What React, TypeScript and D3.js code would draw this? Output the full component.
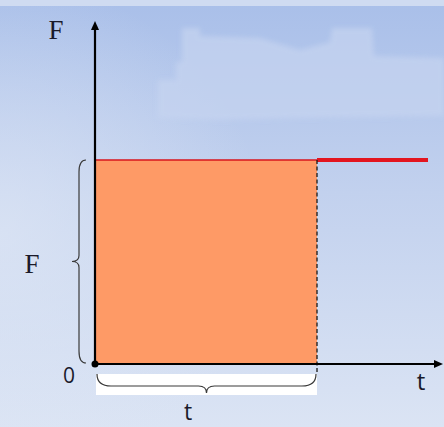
import React from "react";
import * as d3 from "d3";

// Constant force F acting over an interval of length t (impulse = F·t)
const timeDomain = [0, 1.5];
const forceDomain = [0, 1];
const pulseDuration = 1; // t
const forceValue = 1; // F
const forceSeries = [
  { t: 0, f: 1 },
  { t: 1.5, f: 1 },
];
const axisLabels = { yAxis: "F", xAxis: "t", origin: "0", forceBrace: "F", timeBrace: "t" };

const W = 444;
const H = 427;

function verticalBrace(x0: number, xl: number, xt: number, y1: number, y2: number) {
  const ym = (y1 + y2) / 2;
  const r = 12;
  return `M${x0},${y1} Q${xl},${y1} ${xl},${y1 + r} L${xl},${ym - 6} Q${xl},${ym} ${xt},${ym} Q${xl},${ym} ${xl},${ym + 6} L${xl},${y2 - r} Q${xl},${y2} ${x0},${y2}`;
}

function horizontalBrace(x1: number, x2: number, y0: number, yl: number, yt: number) {
  const xm = (x1 + x2) / 2;
  const r = 14;
  return `M${x1},${y0} Q${x1},${yl} ${x1 + r},${yl} L${xm - 8},${yl} Q${xm},${yl} ${xm},${yt} Q${xm},${yl} ${xm + 8},${yl} L${x2 - r},${yl} Q${x2},${yl} ${x2},${y0}`;
}

export default function App() {
  const x = d3.scaleLinear().domain(timeDomain).range([95, 428]);
  const y = d3.scaleLinear().domain(forceDomain).range([364, 160]);

  const x0 = x(0);
  const y0 = y(0);
  const xt = x(pulseDuration);
  const yF = y(forceValue);

  const line = d3
    .line<{ t: number; f: number }>()
    .x((d) => x(d.t))
    .y((d) => y(d.f));

  // part of the force line beyond the shaded interval
  const tail = [{ t: pulseDuration, f: forceValue }, forceSeries[forceSeries.length - 1]];

  const xAxisEnd = 443;
  const yAxisEnd = 21;

  return (
    <svg
      width={W}
      height={H}
      style={{ position: "fixed", left: 0, top: 0, display: "block" }}
    >
      <defs>
        <linearGradient id="bg" x1="0" y1="0" x2="0" y2="1">
          <stop offset="0" stopColor="#a9bfe9" />
          <stop offset="0.45" stopColor="#c2d1ee" />
          <stop offset="1" stopColor="#dbe4f4" />
        </linearGradient>
        <radialGradient id="glow" cx="0" cy="0.55" r="0.6">
          <stop offset="0" stopColor="#dfe7f5" stopOpacity="0.7" />
          <stop offset="1" stopColor="#dfe7f5" stopOpacity="0" />
        </radialGradient>
        <filter id="soft" x="-10%" y="-10%" width="120%" height="120%">
          <feGaussianBlur stdDeviation="2.5" />
        </filter>
      </defs>

      {/* backdrop */}
      <rect x={0} y={0} width={W} height={H} fill="url(#bg)" />
      <rect x={0} y={0} width={W} height={H} fill="url(#glow)" />
      <rect x={0} y={0} width={W} height={6} fill="#cfdbf1" />

      {/* faint emblem */}
      <g fill="#c6d4f0" opacity={0.7} filter="url(#soft)">
        <path d="M158,80 L176,80 L176,62 L182,62 L182,28 L200,28 L200,36 L260,38 L300,50 L330,42 L332,28 L372,28 L374,56 L444,58 L444,116 L300,118 L220,120 L158,118 Z" />
      </g>

      {/* impulse area F·t */}
      <rect x={x0} y={yF} width={xt - x0} height={y0 - yF} fill="#fe9a66" />
      <line x1={x0} y1={yF} x2={xt} y2={yF} stroke="#d8141c" strokeWidth={1.5} />
      <path d={line(tail) ?? ""} stroke="#e3151f" strokeWidth={4} fill="none" />

      {/* dashed marker at t */}
      <line x1={xt} y1={yF} x2={xt} y2={y0 + 10} stroke="#1a1a1a" strokeWidth={1.3} strokeDasharray="4,2.5" />

      {/* time brace */}
      <rect x={x0 + 1} y={374} width={xt - x0 - 1} height={21} fill="#ffffff" />
      <path d={horizontalBrace(x0 + 2, xt - 1, 374, 386, 393)} fill="none" stroke="#3a3a3a" strokeWidth={1.2} />

      {/* force brace */}
      <path d={verticalBrace(86, 79, 72, yF, y0 - 1)} fill="none" stroke="#3a3a3a" strokeWidth={1.2} />

      {/* axes */}
      <line x1={x0} y1={y0} x2={x0} y2={yAxisEnd + 6} stroke="#000" strokeWidth={2.2} />
      <path d={`M${x0},${yAxisEnd} L${x0 - 4},${yAxisEnd + 9} L${x0 + 4},${yAxisEnd + 9} Z`} fill="#000" />
      <line x1={x0} y1={y0} x2={xAxisEnd - 6} y2={y0} stroke="#000" strokeWidth={2} />
      <path d={`M${xAxisEnd},${y0} L${xAxisEnd - 9},${y0 - 4} L${xAxisEnd - 9},${y0 + 4} Z`} fill="#000" />
      <circle cx={x0} cy={y0} r={3.5} fill="#000" />

      {/* labels */}
      <text x={56} y={39} fontFamily="'Liberation Serif', serif" fontSize={27} textAnchor="middle" fill="#1a1a2a">
        {axisLabels.yAxis}
      </text>
      <text x={32} y={273} fontFamily="'Liberation Serif', serif" fontSize={27} textAnchor="middle" fill="#1a1a2a">
        {axisLabels.forceBrace}
      </text>
      <text x={69} y={383} fontFamily="'Open Sans', sans-serif" fontSize={21} textAnchor="middle" fill="#1a1a2a">
        {axisLabels.origin}
      </text>
      <text x={421} y={390} fontFamily="'Open Sans', sans-serif" fontSize={24} textAnchor="middle" fill="#1a1a2a">
        {axisLabels.xAxis}
      </text>
      <text x={188} y={420} fontFamily="'Open Sans', sans-serif" fontSize={23} textAnchor="middle" fill="#1a1a2a">
        {axisLabels.timeBrace}
      </text>
    </svg>
  );
}
